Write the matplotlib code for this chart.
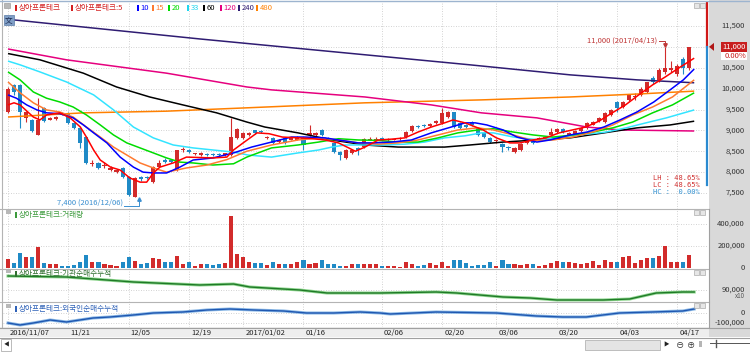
import matplotlib
matplotlib.use("Agg")
import matplotlib.pyplot as plt
import matplotlib.transforms as mtransforms
from matplotlib.patches import Rectangle, Polygon
from matplotlib.lines import Line2D

plt.rcParams["font.family"] = ["Noto Sans CJK KR", "DejaVu Sans"]
plt.rcParams["font.size"] = 5.5

W, H = 750, 352

# ---- 일봉 데이터 (2016/11/07 ~ 2017/04/19) ----
opens = [9440, 10090, 10090, 9300, 9250, 8900, 9540, 9260, 9280, 9420,
         9420, 9180, 9060, 8840, 8200, 8220, 8150, 8050, 8000, 8100,
         7880, 7400, 7880, 7880, 7760, 8130, 8300, 8300, 8050, 8520,
         8530, 8430, 8400, 8440, 8430, 8440, 8400, 8400, 8820, 8820,
         8880, 9000, 8970, 8820, 8820, 8720, 8820, 8780, 8780, 8820,
         8890, 8890, 9010, 8820, 8700, 8480, 8340, 8460, 8580, 8600,
         8780, 8780, 8820, 8770, 8780, 8790, 8840, 8980, 9100, 9130,
         9100, 9180, 9180, 9320, 9440, 9180, 9130, 9200, 9060, 8940,
         8820, 8740, 8670, 8590, 8480, 8530, 8700, 8740, 8770, 8800,
         8900, 8960, 9030, 8900, 8920, 8980, 9060, 9140, 9220, 9200,
         9370, 9680, 9560, 9730, 9800, 9850, 9920, 10250, 10200, 10400,
         10450, 10350, 10700, 10500]
highs = [10040, 10120, 10100, 9460, 9270, 9780, 9560, 9320, 9350, 9440,
         9440, 9200, 9080, 8860, 8290, 8240, 8250, 8150, 8080, 8120,
         7900, 7880, 7900, 7900, 8150, 8290, 8350, 8320, 8540, 8600,
         8560, 8460, 8490, 8460, 8450, 8460, 8470, 9300, 9060, 8960,
         8960, 9020, 9000, 8870, 8840, 8800, 8840, 8840, 8860, 8840,
         9130, 8960, 9030, 8840, 8720, 8500, 8550, 8560, 8600, 8820,
         8830, 8830, 8840, 8810, 8800, 8840, 8980, 9120, 9120, 9150,
         9170, 9250, 9540, 9460, 9450, 9200, 9150, 9220, 9080, 8960,
         8840, 8790, 8690, 8620, 8600, 8700, 8760, 8760, 8840, 8850,
         9050, 9060, 9050, 8960, 9010, 9080, 9200, 9220, 9320, 9440,
         9510, 9700, 9700, 9870, 9900, 10050, 10150, 10300, 10500, 11000,
         10650, 10600, 10750, 11000]
lows = [9420, 9850, 9060, 9200, 8960, 8880, 9200, 9240, 9250, 9360,
        9150, 9040, 8580, 8200, 8150, 8080, 8100, 8030, 7980, 7860,
        7420, 7400, 7780, 7830, 7750, 8120, 8230, 8230, 8030, 8480,
        8460, 8400, 8380, 8380, 8390, 8390, 8380, 8380, 8800, 8800,
        8860, 8920, 8940, 8800, 8680, 8700, 8680, 8760, 8760, 8530,
        8870, 8870, 8870, 8760, 8460, 8290, 8320, 8440, 8410, 8580,
        8760, 8760, 8760, 8750, 8760, 8770, 8820, 8960, 9060, 9080,
        9080, 9160, 9160, 9300, 9060, 9040, 9060, 9110, 8870, 8820,
        8700, 8700, 8480, 8540, 8460, 8510, 8680, 8680, 8750, 8780,
        8880, 8940, 8940, 8880, 8900, 8960, 9040, 9120, 9200, 9180,
        9350, 9440, 9540, 9710, 9730, 9830, 9900, 10100, 10150, 10350,
        10400, 10300, 10350, 10450]
closes = [9990, 9920, 9440, 9440, 8980, 9250, 9220, 9290, 9320, 9380,
          9180, 9060, 8700, 8220, 8230, 8100, 8180, 8110, 8060, 7880,
          7450, 7860, 7830, 7850, 8120, 8220, 8250, 8250, 8530, 8540,
          8480, 8440, 8470, 8400, 8400, 8400, 8450, 8840, 9030, 8940,
          8940, 8940, 8960, 8850, 8700, 8780, 8700, 8820, 8840, 8650,
          8940, 8940, 8890, 8770, 8480, 8420, 8530, 8530, 8540, 8800,
          8800, 8800, 8780, 8790, 8790, 8820, 8960, 9100, 9080, 9100,
          9150, 9230, 9420, 9440, 9080, 9060, 9080, 9130, 8890, 8840,
          8720, 8750, 8600, 8580, 8580, 8680, 8740, 8700, 8820, 8830,
          8960, 9030, 8960, 8940, 8990, 9060, 9180, 9190, 9300, 9420,
          9490, 9540, 9680, 9850, 9820, 10000, 10150, 10150, 10450, 10500,
          10500, 10550, 10500, 11000]
volume = [82000, 42000, 139000, 103000, 103000, 188000, 42000, 33000, 36000, 21000,
          21000, 27000, 55000, 118000, 55000, 55000, 33000, 24000, 18000, 52000,
          97000, 64000, 33000, 48000, 88000, 82000, 52000, 52000, 109000, 39000,
          52000, 21000, 33000, 33000, 24000, 36000, 42000, 470000, 124000, 103000,
          58000, 42000, 48000, 27000, 52000, 33000, 33000, 36000, 58000, 73000,
          36000, 42000, 73000, 36000, 33000, 18000, 18000, 33000, 33000, 36000,
          39000, 36000, 18000, 18000, 18000, 6000, 52000, 36000, 18000, 27000,
          42000, 27000, 52000, 21000, 73000, 73000, 42000, 18000, 27000, 27000,
          52000, 18000, 73000, 36000, 36000, 24000, 39000, 39000, 21000, 27000,
          42000, 64000, 58000, 58000, 42000, 36000, 42000, 64000, 27000, 73000,
          52000, 58000, 103000, 109000, 42000, 73000, 88000, 91000, 109000, 203000,
          52000, 58000, 52000, 115000]

date_idx = [0, 10, 20, 30, 39, 49, 62, 72, 81, 91, 101, 111]
date_lbl = ["2016/11/07", "11/21", "12/05", "12/19", "2017/01/02", "01/16",
            "02/06", "02/20", "03/06", "03/20", "04/03", "04/17"]

# ---- 이동평균선 ----
ma5_x = [0, 1, 2, 4.2, 5.3, 6.4, 8.6, 10.3, 12, 13, 14.2, 15.3, 17, 18.6, 20.2, 21.9, 23, 24.1, 25.2, 27.4,
         29.6, 34, 36.3, 37.4, 39, 41.3, 43.3, 45.5, 48.3, 50.5, 52.6, 54.8, 56.5, 57.6, 59.2, 61.4, 63.6, 65.8, 68, 70.2,
         72.4, 73.8, 75.8, 78.8, 81, 83.2, 84.9, 87, 89.2, 91.4, 93.6, 95.8, 98, 100.2, 102.4, 104.6, 106.9, 109, 111.2, 113.8]
ma5_y = [9610, 9660, 9610, 9320, 9250, 9370, 9420, 9300, 9080, 8840, 8530, 8290, 8120, 8050, 7860, 7760, 7760, 7980, 8120, 8220,
         8360, 8340, 8360, 8530, 8700, 8940, 8920, 8840, 8820, 8800, 8770, 8700, 8580, 8500, 8600, 8770, 8790, 8820, 8960, 9080,
         9180, 9250, 9180, 9010, 8820, 8700, 8700, 8770, 8820, 8940, 9010, 9080, 9220, 9420, 9610, 9850, 10090, 10280, 10490, 10730]
ma10_x = [0, 1.4, 3.1, 4.8, 6.4, 8.6, 10.8, 12.5, 14.2, 16.4, 18.6, 20.8, 22.4, 24.1, 26.3, 28.5, 30.7, 34, 37.4, 40.4,
          43.7, 47, 49.2, 52.6, 54.8, 58.1, 60.3, 63.6, 66.9, 70.2, 73.5, 75.8, 77.5, 79.4, 82.1, 84.4, 87.7, 89.9, 93.2, 96,
          98.8, 101.5, 104.3, 107.1, 109.8, 112, 113.8]
ma10_y = [9850, 9770, 9610, 9490, 9420, 9400, 9300, 9130, 8940, 8700, 8360, 8120, 8000, 7980, 7980, 8120, 8290, 8340, 8460, 8600,
          8720, 8840, 8840, 8820, 8770, 8700, 8700, 8720, 8770, 8940, 9080, 9180, 9180, 9130, 9010, 8840, 8720, 8770, 8890, 8960,
          9080, 9250, 9440, 9680, 9970, 10210, 10470]
ma15_x = [0, 2, 4.2, 6.4, 8.6, 10.8, 13, 15.3, 17.5, 19.7, 21.9, 24.1, 26.3, 29.6, 33, 36.3, 39.6, 43.7, 48.1, 51.5,
          54.8, 58.1, 61.4, 64.7, 68, 71.3, 74.6, 77.9, 80.5, 83.8, 87.1, 90.4, 93.7, 97, 100.3, 103.6, 106.9, 110.2, 113.8]
ma15_y = [10160, 9900, 9660, 9490, 9440, 9320, 9080, 8840, 8600, 8410, 8220, 8100, 8000, 8100, 8170, 8300, 8500, 8650, 8770, 8820,
          8770, 8700, 8670, 8700, 8770, 8890, 9010, 9060, 9010, 8890, 8750, 8770, 8840, 8960, 9130, 9370, 9560, 9800, 10210]
ma20_x = [0, 2, 4.2, 6.4, 8.6, 10.8, 13, 15.3, 17.5, 19.7, 21.9, 24.1, 26.3, 28.5, 30.7, 34, 37.4, 39.6, 43.7, 48.1,
          51.5, 54.8, 58.1, 61.4, 64.7, 68, 71.3, 74.6, 77.9, 80.5, 83.8, 87.1, 90.4, 93.7, 97, 100.3, 103.6, 106.9, 110.2, 113.8]
ma20_y = [10400, 10210, 9920, 9770, 9680, 9560, 9370, 9130, 8890, 8700, 8580, 8460, 8340, 8240, 8220, 8170, 8200, 8360, 8580, 8650,
          8720, 8800, 8770, 8760, 8720, 8720, 8820, 8940, 9010, 9040, 8960, 8890, 8840, 8890, 8960, 9060, 9200, 9420, 9610, 9900]
ma33_x = [0, 2, 5.3, 9.7, 14.2, 17.5, 20.8, 24.1, 27.4, 30.7, 34, 37.4, 39.8, 43.7, 48.1, 51.5, 53.7, 55.9, 59.2, 62.5,
          65.8, 69.1, 72.4, 75.8, 78.5, 80.5, 83.8, 88.2, 91.5, 94.8, 99.2, 102.5, 105.8, 109.2, 113.8]
ma33_y = [10660, 10570, 10400, 10160, 9850, 9490, 9080, 8820, 8650, 8580, 8530, 8480, 8410, 8360, 8460, 8530, 8600, 8650, 8650, 8650,
          8670, 8720, 8820, 8870, 8940, 8940, 8840, 8770, 8840, 8890, 8960, 9060, 9180, 9300, 9490]
ma60_x = [0, 5.3, 12.5, 18, 23.5, 29, 34.6, 39.6, 42.6, 48.1, 53.7, 59.2, 64.7, 72.4, 76.6, 82.1, 87.7, 93.2, 98.8, 104.3, 109.8, 113.8]
ma60_y = [10840, 10690, 10370, 10040, 9800, 9610, 9420, 9200, 9080, 8940, 8770, 8650, 8600, 8600, 8650, 8720, 8770, 8820, 8940, 9060, 9130, 9220]
ma120_x = [0, 9.7, 26.3, 39.6, 43.7, 59.2, 70.2, 78.5, 87.7, 96, 101.5, 113.8]
ma120_y = [10950, 10690, 10370, 10040, 9970, 9800, 9610, 9420, 9300, 9080, 9010, 8985]
ma240_x = [0, 31.8, 76.6, 93.2, 104.3, 113.8]
ma240_y = [11660, 11190, 10570, 10330, 10210, 10140]
ma480_x = [0, 12.5, 26.3, 39.6, 59.2, 78.5, 93.2, 104.3, 113.8]
ma480_y = [9320, 9420, 9460, 9540, 9660, 9730, 9800, 9870, 9940]

# ---- 기관 / 외국인 순매수 누적 ----
inst_x = [0, 9.7, 20.8, 31.8, 37.4, 40.1, 48.4, 52.9, 61.7, 71, 74.4, 82.1, 86.6, 91, 98.7, 103.1, 107.5, 111.9, 113.8]
inst_y = [118000, 116000, 106000, 100000, 102000, 96000, 90000, 84000, 84000, 86000, 84000, 76000, 74000, 70000, 70000,
          72000, 84000, 86000, 86000]
forn_x = [0, 2, 4.2, 7, 9.7, 14.1, 16.9, 20.8, 24.1, 29, 33, 36.8, 40.7, 45.7, 49.5, 54, 58.4, 61.7, 63.4, 71,
          81, 87.6, 92, 95.9, 101.4, 106.9, 111.9, 113.8]
forn_y = [-100000, -120000, -100000, -70000, -90000, -50000, -40000, -20000, 0, 10000, 30000, 40000, 30000, 20000, 0,
          0, 10000, 0, -10000, 10000, 0, -30000, -40000, -40000, 0, 10000, 20000, 40000]

UP, DOWN = "#d22b2b", "#1f8ac6"
GRID = "#c4c4c4"

fig = plt.figure(figsize=(W / 100, H / 100), dpi=100)
fig.patch.set_facecolor("white")


def fx(px):
    return px / W


def fy(py):
    return 1 - py / H


X0, X1 = 3, 707


def ix(px):
    return (px - 8) / 6.03


def panel(y0, y1, lo, hi):
    ax = fig.add_axes([fx(X0), fy(y1), (X1 - X0) / W, (y1 - y0) / H])
    ax.set_xlim(ix(X0), ix(X1))
    ax.set_ylim(lo, hi)
    ax.axis("off")
    for d in date_idx:
        ax.axvline(d, color=GRID, lw=0.6, ls=(0, (1, 2)), zorder=0)
    return ax


def price(py):
    return 11500 - (py - 26) * 4000 / 167


ax_p = panel(3, 209, price(209), price(3))
ax_v = panel(209, 269, -(269 - 268) * 200000 / 22, (268 - 209) * 200000 / 22)
ax_i = panel(269, 302, 66000, 132000)
ax_f = panel(302, 327, -140000, 110000)

# 배경 / 구분선
fig.patches.append(Rectangle((fx(709), fy(337)), 41 / W, 337 / H, transform=fig.transFigure,
                             fc="#d9d9d9", ec="none", zorder=-5))
fig.patches.append(Rectangle((0, fy(337)), fx(709), 10 / H, transform=fig.transFigure,
                             fc="#eeeeee", ec="none", zorder=-5))
for yy in [209, 269, 302]:
    fig.lines.append(Line2D([0, fx(709)], [fy(yy), fy(yy)], transform=fig.transFigure, color="#b4b4b4", lw=0.8))
fig.lines.append(Line2D([0, fx(750)], [fy(327.5), fy(327.5)], transform=fig.transFigure, color="#a0a0a0", lw=0.8))
fig.lines.append(Line2D([0, fx(750)], [fy(337.5), fy(337.5)], transform=fig.transFigure, color="#a0a0a0", lw=0.8))
fig.lines.append(Line2D([fx(2), fx(2)], [fy(327), fy(0)], transform=fig.transFigure, color="#b4b4b4", lw=0.8))
fig.lines.append(Line2D([0, 1], [fy(0.5), fy(0.5)], transform=fig.transFigure, color="#9db4cf", lw=1))
fig.lines.append(Line2D([fx(708.5), fx(708.5)], [fy(209), fy(327)], transform=fig.transFigure, color="#a0a0a0", lw=0.8))

# ---- 가격 패널 ----
price_ticks = [11500, 11000, 10500, 10000, 9500, 9000, 8500, 8000, 7500]
for v in price_ticks:
    ax_p.axhline(v, color=GRID, lw=0.6, ls=(0, (1, 2)), zorder=0)

n = len(closes)
idx = list(range(n))
cols = [UP if closes[i] >= opens[i] else DOWN for i in idx]
ax_p.vlines(idx, lows, highs, colors=cols, lw=0.8, zorder=2)
body_bot = [min(opens[i], closes[i]) for i in idx]
body_h = [max(abs(closes[i] - opens[i]), 24) for i in idx]
ax_p.bar(idx, body_h, 0.68, body_bot, color=cols, lw=0, zorder=3)

for xs, ys, c in [(ma480_x, ma480_y, "#ff8000"), (ma240_x, ma240_y, "#2f1c72"), (ma120_x, ma120_y, "#e6007e"),
                  (ma60_x, ma60_y, "#000000"), (ma33_x, ma33_y, "#33e4ff"), (ma20_x, ma20_y, "#00dc00"),
                  (ma15_x, ma15_y, "#ff7a30"), (ma10_x, ma10_y, "#0000ff"), (ma5_x, ma5_y, "#ff0000")]:
    ax_p.plot(xs, ys, color=c, lw=1.1, zorder=4, solid_capstyle="butt")

tp = mtransforms.blended_transform_factory(fig.transFigure, ax_p.transData)
for v in price_ticks:
    if v == 11000:
        continue
    ax_p.text(fx(745), v, f"{v:,}", transform=tp, ha="right", va="center", color="#333333", clip_on=False)

# 최고 / 최저 표시
hi_i = highs.index(max(highs))
lo_i = lows.index(min(lows))
ax_p.text(ix(657), price(41), "11,000 (2017/04/13)", ha="right", va="center", color="#c03838")
ax_p.plot([ix(659), hi_i, hi_i], [price(41), price(41), max(highs) + 30], color="#c03838", lw=0.7, zorder=5)
ax_p.plot([hi_i], [max(highs) + 40], marker="v", ms=2.5, color="#c03838", zorder=5)
ax_p.text(ix(123), price(203), "7,400 (2016/12/06)", ha="right", va="center", color="#3a8fd0")
ax_p.plot([ix(124), lo_i + 0.8, lo_i + 0.8], [price(206), price(206), min(lows) - 40], color="#3a8fd0", lw=0.7, zorder=5)
ax_p.plot([lo_i + 0.8], [min(lows) - 50], marker="^", ms=2.5, color="#3a8fd0", zorder=5)

for yy, s, c in [(178, "LH : 48.65%", "#d03030"), (185, "LC : 48.65%", "#d03030"), (192, "HC :  0.00%", "#2f8fd0")]:
    fig.text(fx(700), fy(yy), s, ha="right", va="center", color=c, family="DejaVu Sans Mono", fontsize=5)

# 현재가
last = closes[-1]
ax_p.plot([ix(707), ix(707)], [price(3), last], color="#d01818", lw=1.6, clip_on=False, zorder=6)
ax_p.plot([ix(707), ix(707)], [last, price(185)], color="#2a8ad0", lw=1.6, clip_on=False, zorder=6)
y_last = 26 + (11500 - last) * 167 / 4000
fig.patches.append(Rectangle((fx(721), fy(y_last + 5)), 26 / W, 10 / H, transform=fig.transFigure,
                             fc="#c81e1e", ec="none"))
fig.patches.append(Rectangle((fx(721), fy(y_last + 13)), 26 / W, 8 / H, transform=fig.transFigure,
                             fc="white", ec="none"))
fig.text(fx(746), fy(y_last), f"{last:,}", ha="right", va="center", color="white")
fig.text(fx(746), fy(y_last + 9), "0.00%", ha="right", va="center", color="#c81e1e")
fig.patches.append(Polygon([(fx(709), fy(y_last)), (fx(714), fy(y_last - 4)), (fx(714), fy(y_last + 4))],
                           closed=True, transform=fig.transFigure, fc="#b01818", ec="none"))

# 범례
fig.patches.append(Rectangle((fx(4), fy(8)), 6 / W, 5 / H, transform=fig.transFigure, fc="#b8b8b8", ec="#909090", lw=0.4))
fig.patches.append(Rectangle((fx(4), fy(25)), 10 / W, 10 / H, transform=fig.transFigure, fc="#7f9ec6", ec="#5a7aa5", lw=0.5))
fig.text(fx(9), fy(20), "文", ha="center", va="center", color="#1c2c50", fontsize=5.5)
legend_items = [(15, "상아프론테크", "#d42020"), (71, "상아프론테크:5", "#d42020"), (137, "10", "#0000ff"),
                (152, "15", "#ff7a30"), (168, "20", "#00dc00"), (187, "33", "#1ed6f0"), (203, "60", "#000000"),
                (220, "120", "#e6007e"), (238, "240", "#2f1c72"), (256, "480", "#ff8000")]
for x, s, c in legend_items:
    fig.patches.append(Rectangle((fx(x), fy(11)), 2 / W, 6 / H, transform=fig.transFigure, fc=c, ec="none"))
    fig.text(fx(x + 3.5), fy(8), s, ha="left", va="center", color=c)

# ---- 거래량 ----
for v in [200000, 400000]:
    ax_v.axhline(v, color=GRID, lw=0.6, ls=(0, (1, 2)), zorder=0)
ax_v.bar(idx, volume, 0.68, color=cols, lw=0, zorder=2)
tv = mtransforms.blended_transform_factory(fig.transFigure, ax_v.transData)
for v in [400000, 200000, 0]:
    ax_v.text(fx(745), v, f"{v:,}", transform=tv, ha="right", va="center", color="#333333", clip_on=False)

# ---- 기관 ----
ax_i.axhline(90000, color=GRID, lw=0.6, ls=(0, (1, 2)), zorder=0)
ax_i.plot(inst_x, inst_y, color="#8fd68f", lw=2.2, zorder=2)
ax_i.plot(inst_x, inst_y, color="#1f7a27", lw=1.0, zorder=3)
ti = mtransforms.blended_transform_factory(fig.transFigure, ax_i.transData)
ax_i.text(fx(745), 90000, "90,000", transform=ti, ha="right", va="center", color="#333333", clip_on=False)
fig.text(fx(745), fy(296.5), "x10", ha="right", va="center", color="#555555", fontsize=4.5)

# ---- 외국인 ----
for v in [0, -100000]:
    ax_f.axhline(v, color=GRID, lw=0.6, ls=(0, (1, 2)), zorder=0)
ax_f.plot(forn_x, forn_y, color="#8ab8e6", lw=2.2, zorder=2)
ax_f.plot(forn_x, forn_y, color="#1f57b0", lw=1.0, zorder=3)
tf = mtransforms.blended_transform_factory(fig.transFigure, ax_f.transData)
for v in [0, -100000]:
    ax_f.text(fx(745), v, f"{v:,}", transform=tf, ha="right", va="center", color="#333333", clip_on=False)

# 패널 제목
for yy, s, c in [(215, "상아프론테크:거래량", "#3c9a3c"), (274, "상아프론테크:기관순매수누적", "#2f6f2f"),
                 (309, "상아프론테크:외국인순매수누적", "#2f62b8")]:
    fig.patches.append(Rectangle((fx(6), fy(yy - 1)), 5 / W, 4 / H, transform=fig.transFigure, fc="#b8b8b8", ec="none"))
    fig.patches.append(Rectangle((fx(15), fy(yy + 3)), 2 / W, 6 / H, transform=fig.transFigure, fc=c, ec="none"))
    fig.text(fx(19), fy(yy), s, ha="left", va="center", color=c)

# 패널 아이콘
for yy in [5, 212, 272, 305]:
    for xx in [694, 700]:
        fig.patches.append(Rectangle((fx(xx), fy(yy + 2.5)), 5 / W, 5 / H, transform=fig.transFigure,
                                     fc="#e6e6e6", ec="#9a9a9a", lw=0.4))

# 날짜축
td = mtransforms.blended_transform_factory(ax_f.transData, fig.transFigure)
for d, s in zip(date_idx, date_lbl):
    ax_f.text(d + 0.35, fy(333), s, transform=td, ha="left", va="center", color="#222222", clip_on=False)

# 스크롤바
fig.patches.append(Rectangle((fx(1), fy(351)), 10 / W, 12 / H, transform=fig.transFigure, fc="white", ec="#a0a0a0", lw=0.5))
fig.text(fx(6), fy(345), "◀", ha="center", va="center", fontsize=4, color="#222222")
fig.patches.append(Rectangle((fx(585), fy(350)), 75 / W, 10 / H, transform=fig.transFigure, fc="#e4e4e4", ec="#a8a8a8", lw=0.5))
fig.text(fx(666), fy(345), "▶", ha="center", va="center", fontsize=4, color="#222222")
fig.text(fx(680), fy(345), "⊖", ha="center", va="center", fontsize=6, color="#333333")
fig.text(fx(691), fy(345), "⊕", ha="center", va="center", fontsize=6, color="#333333")
fig.text(fx(701), fy(344), "|||", ha="center", va="center", fontsize=4, color="#333333")
fig.lines.append(Line2D([fx(710), fx(749)], [fy(343), fy(343)], transform=fig.transFigure, color="#555555", lw=0.7))
fig.lines.append(Line2D([fx(716), fx(716)], [fy(340), fy(347)], transform=fig.transFigure, color="#555555", lw=1))

fig.savefig("out.png", dpi=100)
